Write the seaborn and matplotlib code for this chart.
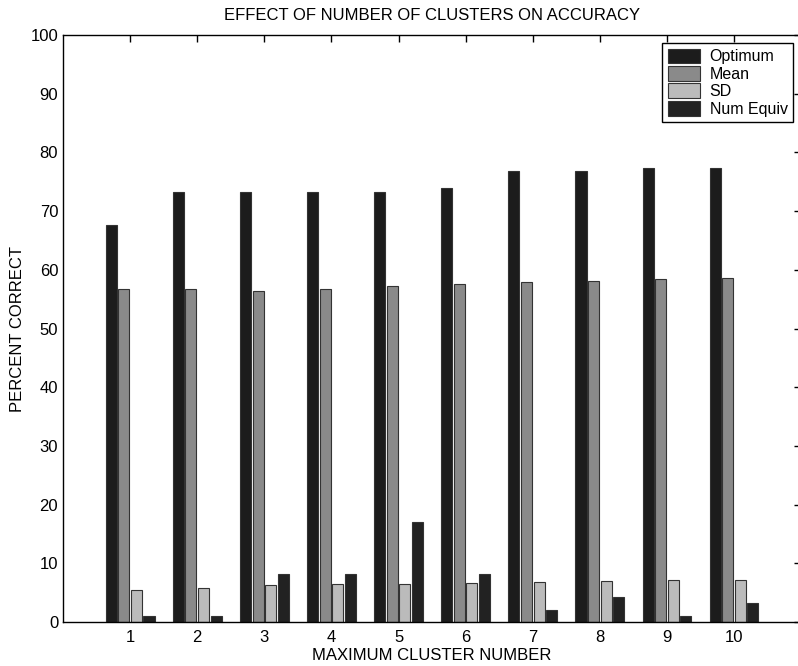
import numpy as np
import pandas as pd
import matplotlib.pyplot as plt
import seaborn as sns

# values
clusters = ["1", "2", "3", "4", "5", "6", "7", "8", "9", "10"]
optimum = [67.7, 73.2, 73.2, 73.2, 73.2, 73.9, 76.8, 76.8, 77.4, 77.4]
mean = [56.7, 56.8, 56.4, 56.7, 57.2, 57.6, 57.9, 58.1, 58.4, 58.6]
sd = [5.5, 5.8, 6.3, 6.5, 6.5, 6.6, 6.8, 7.0, 7.1, 7.1]
num_equiv = [1.1, 1.1, 8.1, 8.1, 17.1, 8.1, 2.1, 4.2, 1.1, 3.3]
series = ["Optimum", "Mean", "SD", "Num Equiv"]

df = pd.DataFrame({
    "cluster": clusters * 4,
    "value": optimum + mean + sd + num_equiv,
    "series": np.repeat(series, len(clusters)),
})

sns.set_style("white")
plt.rcParams["font.family"] = ["Liberation Sans", "DejaVu Sans"]
plt.rcParams["text.color"] = "black"
plt.rcParams["axes.labelcolor"] = "black"

fig = plt.figure(figsize=(7.98, 6.66), dpi=100)
ax = fig.add_axes([0.079, 0.066, 0.925, 0.8815])

colors = ["#1c1c1c", "#8a8a8a", "#bbbbbb", "#222222"]
sns.barplot(data=df, x="cluster", y="value", hue="series", hue_order=series,
            palette=colors, width=0.75, gap=0.12, edgecolor="#333333",
            linewidth=0.8, saturation=1, ax=ax)

ax.set_xlim(-1, 10)
ax.set_ylim(0, 100)
ax.set_yticks(range(0, 101, 10))
ax.tick_params(direction="in", top=True, right=True, length=5, width=1,
               labelsize=12, colors="black")
ax.tick_params(axis="x", pad=6)
for s in ax.spines.values():
    s.set_color("black")
    s.set_linewidth(1)

ax.set_title("EFFECT OF NUMBER OF CLUSTERS ON ACCURACY", fontsize=12, pad=11,
             color="black")
ax.set_xlabel("MAXIMUM CLUSTER NUMBER", fontsize=12, labelpad=2, color="black")
ax.set_ylabel("PERCENT CORRECT", fontsize=12, labelpad=4, color="black")

leg = ax.legend(loc="upper right", fontsize=11.5, frameon=True, fancybox=False,
                edgecolor="black", framealpha=1, handlelength=2.0,
                handleheight=1.05, labelspacing=0.1, borderpad=0.35,
                borderaxespad=0.5, handletextpad=0.6)
leg.get_frame().set_linewidth(1)
for t in leg.get_texts():
    t.set_color("black")

fig.savefig("out.png", dpi=100)
